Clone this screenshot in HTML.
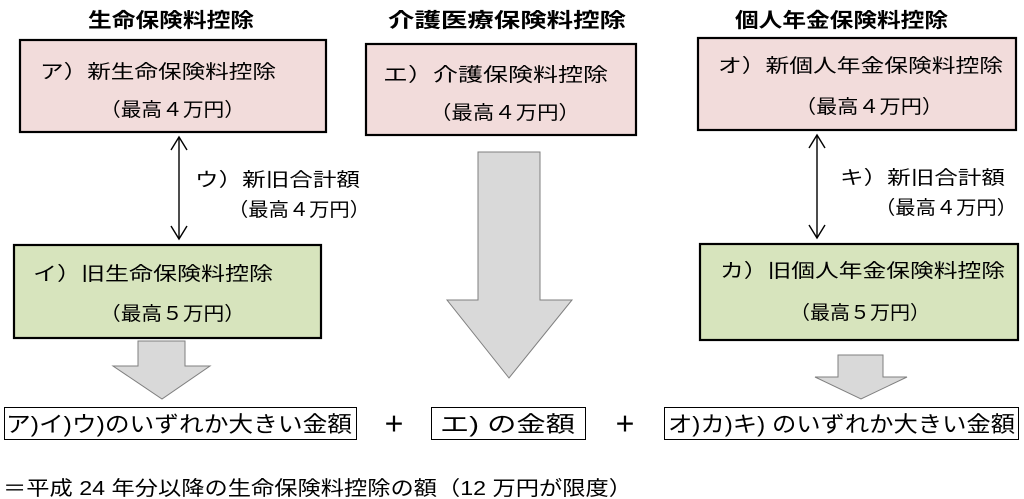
<!DOCTYPE html>
<html><head><meta charset="utf-8"><style>
html,body{margin:0;padding:0;background:#fff;}
svg{display:block;}
text{font-family:"Liberation Sans","Noto Sans CJK JP",sans-serif;fill:#000;}
</style></head><body>
<svg width="1024" height="499" viewBox="0 0 1024 499" xmlns="http://www.w3.org/2000/svg">
<g font-size="20" font-weight="bold">
<text x="88" y="27" textLength="166" lengthAdjust="spacingAndGlyphs">生命保険料控除</text>
<text x="388" y="27" textLength="238" lengthAdjust="spacingAndGlyphs">介護医療保険料控除</text>
<text x="735" y="27" textLength="213" lengthAdjust="spacingAndGlyphs">個人年金保険料控除</text>
</g>
<g stroke="#000" stroke-width="2.2">
<rect x="20" y="40" width="306" height="92" fill="#f2dcdb"/>
<rect x="366" y="44" width="270" height="91" fill="#f2dcdb"/>
<rect x="698" y="38" width="318" height="92" fill="#f2dcdb"/>
<rect x="14" y="245" width="307" height="93" fill="#d7e4bd"/>
<rect x="700" y="244" width="318" height="96" fill="#d7e4bd"/>
</g>
<g font-size="19">
<text x="40" y="78" textLength="236" lengthAdjust="spacingAndGlyphs">ア）新生命保険料控除</text>
<text x="100" y="116" textLength="145" lengthAdjust="spacingAndGlyphs">（最高４万円）</text>
<text x="383" y="81" textLength="225" lengthAdjust="spacingAndGlyphs">エ）介護保険料控除</text>
<text x="430" y="119" textLength="150" lengthAdjust="spacingAndGlyphs">（最高４万円）</text>
<text x="718" y="72" textLength="285" lengthAdjust="spacingAndGlyphs">オ）新個人年金保険料控除</text>
<text x="795" y="113" textLength="148" lengthAdjust="spacingAndGlyphs">（最高４万円）</text>
<text x="33" y="280" textLength="240" lengthAdjust="spacingAndGlyphs">イ）旧生命保険料控除</text>
<text x="100" y="320" textLength="145" lengthAdjust="spacingAndGlyphs">（最高５万円）</text>
<text x="720" y="277" textLength="285" lengthAdjust="spacingAndGlyphs">カ）旧個人年金保険料控除</text>
<text x="790" y="319" textLength="140" lengthAdjust="spacingAndGlyphs">（最高５万円）</text>
<text x="195" y="186" textLength="165" lengthAdjust="spacingAndGlyphs">ウ）新旧合計額</text>
<text x="228" y="216" textLength="142" lengthAdjust="spacingAndGlyphs">（最高４万円）</text>
<text x="840" y="184" textLength="165" lengthAdjust="spacingAndGlyphs">キ）新旧合計額</text>
<text x="875" y="214" textLength="142" lengthAdjust="spacingAndGlyphs">（最高４万円）</text>
</g>
<g stroke="#000" stroke-width="1.4" fill="none">
<line x1="179" y1="137" x2="179" y2="239"/>
<path d="M171,150 L179,137 L187,150 M171,226 L179,239 L187,226"/>
<line x1="817" y1="135" x2="817" y2="238"/>
<path d="M809,148 L817,135 L825,148 M809,225 L817,238 L825,225"/>
</g>
<g fill="#d9d9d9" stroke="#7f7f7f" stroke-width="1">
<path d="M478,152 H540 V300 H572 L509,378 L447,300 H478 Z"/>
<path d="M138,341 H185 V366 H210 L162,399 L113,366 H138 Z"/>
<path d="M838,355 H883 V377 H907 L861,399 L815,377 H838 Z"/>
</g>
<g fill="#fff" stroke="#000" stroke-width="1">
<rect x="4.5" y="407.5" width="352" height="32"/>
<rect x="431.5" y="407.5" width="154" height="32"/>
<rect x="664.5" y="407.5" width="354" height="32"/>
</g>
<g font-size="22">
<text x="6" y="432" textLength="346" lengthAdjust="spacingAndGlyphs">ア)イ)ウ)のいずれか大きい金額</text>
<text x="440" y="432" textLength="135" lengthAdjust="spacingAndGlyphs">エ) の金額</text>
<text x="668" y="432" textLength="347" lengthAdjust="spacingAndGlyphs">オ)カ)キ) のいずれか大きい金額</text>
<text x="383" y="432" font-weight="bold">＋</text>
<text x="614" y="432" font-weight="bold">＋</text>
</g>
<text x="3" y="495" font-size="20" textLength="629" lengthAdjust="spacingAndGlyphs">＝平成 24 年分以降の生命保険料控除の額（12 万円が限度）</text>
</svg>
</body></html>
